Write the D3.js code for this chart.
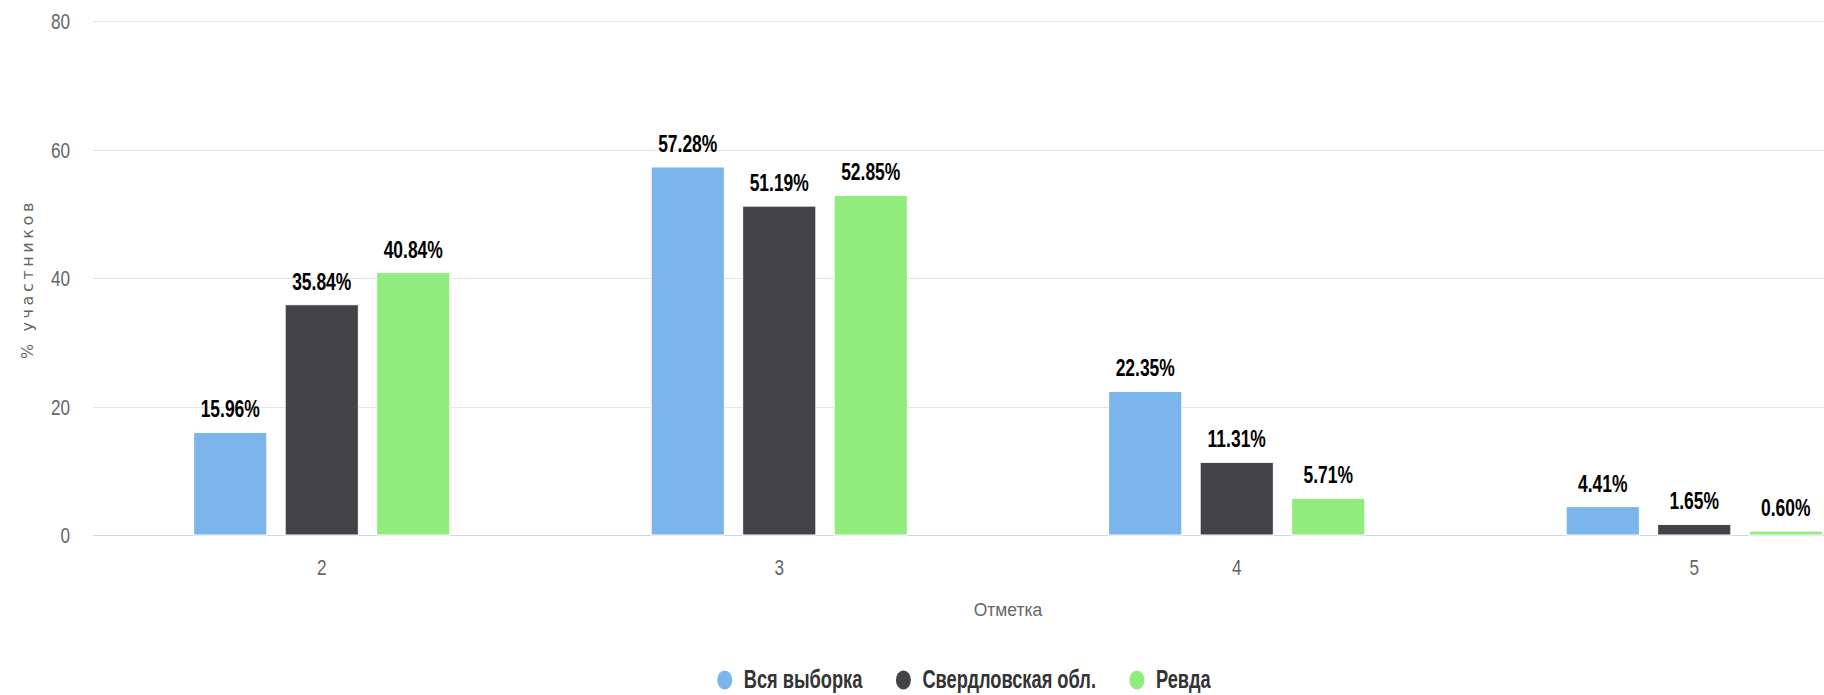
<!DOCTYPE html>
<html><head><meta charset="utf-8">
<script src="https://cdn.jsdelivr.net/npm/d3@7"></script>
<style>
html,body{margin:0;padding:0;background:#fff;overflow:hidden;}
svg{display:block;overflow:hidden;}
</style></head>
<body>
<svg id="chart" width="1824" height="695"></svg>
<script>
const categories = ["2", "3", "4", "5"];
const seriesNames = ["Вся выборка", "Свердловская обл.", "Ревда"];
const seriesColors = ["#7cb5ec", "#434348", "#90ed7d"];
const valuesAll = [15.96, 57.28, 22.35, 4.41];
const valuesSverdl = [35.84, 51.19, 11.31, 1.65];
const valuesRevda = [40.84, 52.85, 5.71, 0.60];
const yTicks = [0, 20, 40, 60, 80];
const yTitle = "% участников";
const xTitle = "Отметка";

const seriesValues = [valuesAll, valuesSverdl, valuesRevda];
const svg = d3.select("#chart");
const plotLeft = 93, plotRight = 1923, plotTop = 21, plotBottom = 535;
const font = "'Liberation Sans', Arial, sans-serif";

const x = d3.scaleBand().domain(categories).range([plotLeft, plotRight]).padding(0);
const bw = x.bandwidth();
const x1 = d3.scaleBand().domain(d3.range(seriesNames.length))
  .range([0.2 * bw, 0.8 * bw]).paddingInner(0.2).paddingOuter(0.1);
const y = d3.scaleLinear().domain([0, 80]).range([plotBottom, plotTop]);

// gridlines
const grid = svg.append("g");
grid.selectAll("line").data(yTicks.filter(d => d !== 0)).join("line")
  .attr("x1", plotLeft).attr("x2", plotRight)
  .attr("y1", d => Math.round(y(d)) + 0.5).attr("y2", d => Math.round(y(d)) + 0.5)
  .attr("stroke", "#e6e6e6").attr("stroke-width", 1);

// y axis labels
const yAxis = d3.axisLeft(y).tickValues(yTicks).tickSize(0).tickPadding(0);
const yg = svg.append("g").attr("transform", `translate(70,0)`).call(yAxis);
yg.select(".domain").remove();
yg.selectAll(".tick text").attr("font-family", font).attr("font-size", 22)
  .attr("fill", "#666").attr("x", 0).attr("dy", "0.36em")
  .attr("transform", "scale(0.78,1)");

// x axis
const xAxis = d3.axisBottom(x).tickSize(0).tickPadding(0);
const xg = svg.append("g").attr("transform", `translate(0,${plotBottom})`).call(xAxis);
xg.select(".domain").attr("stroke", "#ccd6eb").attr("d", `M${plotLeft},0.5H${plotRight}`);
xg.selectAll(".tick text").attr("font-family", font).attr("font-size", 22)
  .attr("fill", "#666").attr("y", 0).attr("dy", 0)
  .attr("transform", "translate(0,40) scale(0.78,1)");

// bars
const groups = svg.append("g").selectAll("g").data(seriesNames).join("g")
  .attr("fill", (d, i) => seriesColors[i]);
groups.each(function(name, si) {
  const g = d3.select(this);
  const data = categories.map((c, ci) => ({c, v: seriesValues[si][ci]}));
  g.selectAll("rect").data(data).join("rect")
    .attr("x", d => x(d.c) + x1(si))
    .attr("width", x1.bandwidth())
    .attr("y", d => y(d.v))
    .attr("height", d => y(0) - y(d.v))
    .attr("stroke", "#fff").attr("stroke-width", 1);
  g.selectAll("text").data(data).join("text")
    .attr("transform", d => `translate(${x(d.c) + x1(si) + x1.bandwidth() / 2},${y(d.v) - 15}) scale(0.76,1)`)
    .attr("text-anchor", "middle")
    .attr("font-family", font).attr("font-weight", "bold").attr("font-size", 23)
    .attr("fill", "#000")
    .text(d => d.v.toFixed(2) + "%");
});

// axis titles
svg.append("text").attr("transform", "translate(33,279) rotate(-90)")
  .attr("text-anchor", "middle").attr("font-family", "'DejaVu Sans', sans-serif")
  .attr("font-size", 16).attr("letter-spacing", 3.6).attr("fill", "#666").text(yTitle);
svg.append("text").attr("transform", `translate(${(plotLeft + 1923) / 2},616) scale(0.92,1)`)
  .attr("text-anchor", "middle").attr("font-family", font)
  .attr("font-size", 19).attr("fill", "#666").text(xTitle);

// legend
const legendScale = 0.73, gap = 41, textOff = 19;
const legend = svg.append("g");
let cx = 0;
seriesNames.forEach((name, i) => {
  const it = legend.append("g").attr("transform", `translate(${cx},0)`);
  it.append("ellipse").attr("cx", 0).attr("cy", 680).attr("rx", 7.5).attr("ry", 9.5)
    .attr("fill", seriesColors[i]);
  const t = it.append("text").attr("transform", `translate(${textOff},688) scale(${legendScale},1)`)
    .attr("font-family", font).attr("font-weight", "bold").attr("font-size", 25)
    .attr("fill", "#333").text(name);
  const w = t.node().getComputedTextLength() * legendScale;
  cx += textOff + w + gap;
});
const totalW = cx - gap + 7.5;
legend.attr("transform", `translate(${964 - totalW / 2 + 7.5},0)`);
</script>
</body></html>
